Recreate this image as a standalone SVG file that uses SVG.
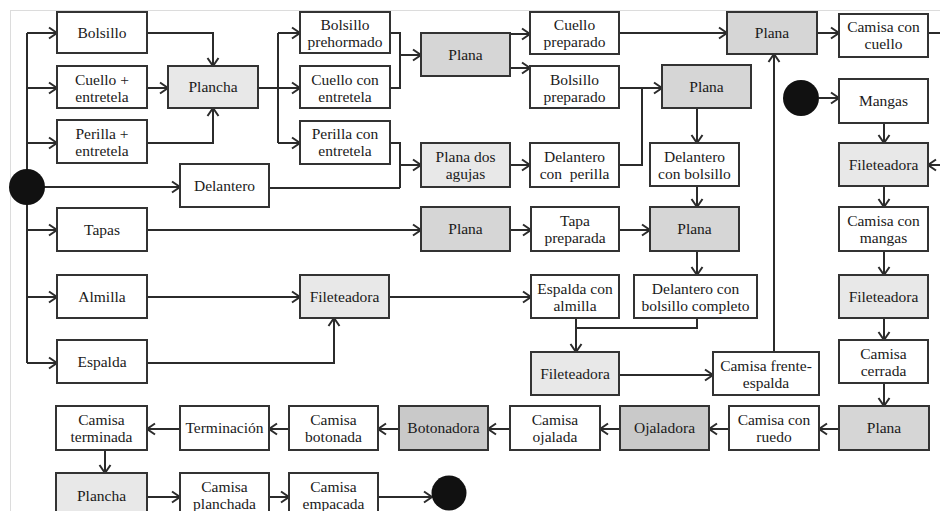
<svg xmlns="http://www.w3.org/2000/svg" width="940" height="511" viewBox="0 0 940 511">
<defs>
<marker id="ar" markerUnits="userSpaceOnUse" markerWidth="12" markerHeight="14" viewBox="0 0 12 14" refX="10" refY="7" orient="auto">
<path d="M2,1.5 L10,7 L2,12.5" fill="none" stroke="#2b2b2b" stroke-width="2"/>
</marker>
</defs>
<style>
.b{fill:#fff;stroke:#333;stroke-width:2}
.l{fill:#e8e8e8;stroke:#333;stroke-width:2}
.m{fill:#d6d6d6;stroke:#333;stroke-width:2}
.d{fill:#c9c9c9;stroke:#333;stroke-width:2}
text{font-family:"Liberation Serif","Times New Roman",serif;font-size:15.5px;fill:#1a1a1a;text-anchor:middle}
.c{fill:#111}
.w{fill:none;stroke:#2b2b2b;stroke-width:2}
.a{marker-end:url(#ar)}
.f{fill:none;stroke:#dcdcdc;stroke-width:1}
</style>
<rect width="940" height="511" fill="#fff"/>
<path class="f" d="M10,10.5 H940 M10.5,10 V511"/>
<g id="connectors">
<path class="w" d="M27,33 V363"/>
<path class="w a" d="M27,33 H57"/>
<path class="w a" d="M27,88 H57"/>
<path class="w a" d="M27,143 H57"/>
<path class="w a" d="M44,187 H180"/>
<path class="w a" d="M27,230 H57"/>
<path class="w a" d="M27,297 H57"/>
<path class="w a" d="M27,363 H57"/>
<path class="w a" d="M147,33 H213 V66"/>
<path class="w a" d="M147,88 H168"/>
<path class="w a" d="M147,143 H213 V108"/>
<path class="w" d="M258,88 H278 M278,33 V143"/>
<path class="w a" d="M278,33 H300"/>
<path class="w a" d="M278,88 H300"/>
<path class="w a" d="M278,143 H300"/>
<path class="w" d="M390,33 H400 V88 H390"/>
<path class="w a" d="M400,55 H421"/>
<path class="w a" d="M510,34 H530"/>
<path class="w a" d="M510,68 H530"/>
<path class="w" d="M390,143 H400 V188 M269,188 H400"/>
<path class="w a" d="M400,165 H421"/>
<path class="w a" d="M510,165 H530"/>
<path class="w a" d="M619,33 H727"/>
<path class="w a" d="M817,33 H839"/>
<path class="w" d="M928,33 H940"/>
<path class="w a" d="M619,88 H662"/>
<path class="w" d="M619,165 H642 V88"/>
<path class="w a" d="M697,108 V143"/>
<path class="w a" d="M697,187 V207"/>
<path class="w a" d="M147,230 H421"/>
<path class="w a" d="M510,230 H531"/>
<path class="w a" d="M619,230 H650"/>
<path class="w a" d="M697,251 V275"/>
<path class="w" d="M697,318 V328 H576"/>
<path class="w a" d="M576,318 V352"/>
<path class="w a" d="M147,297 H300"/>
<path class="w a" d="M147,363 H334 V318"/>
<path class="w a" d="M389,297 H531"/>
<path class="w a" d="M619,375 H713"/>
<path class="w a" d="M774,352 V54"/>
<path class="w a" d="M819,98 H839"/>
<path class="w a" d="M884,123 V143"/>
<path class="w a" d="M940,165 H928"/>
<path class="w a" d="M884,186 V207"/>
<path class="w a" d="M884,251 V275"/>
<path class="w a" d="M884,318 V340"/>
<path class="w a" d="M884,383 V406"/>
<path class="w a" d="M839,429 H819"/>
<path class="w a" d="M729,429 H709"/>
<path class="w a" d="M620,429 H600"/>
<path class="w a" d="M510,429 H488"/>
<path class="w a" d="M399,429 H378"/>
<path class="w a" d="M289,429 H269"/>
<path class="w a" d="M180,429 H147"/>
<path class="w a" d="M105,450 V473"/>
<path class="w a" d="M147,497 H180"/>
<path class="w a" d="M269,497 H289"/>
<path class="w a" d="M378,497 H432"/>
</g>
<g id="start1"><circle class="c" cx="27" cy="187" r="18"/></g>
<g id="start2"><circle class="c" cx="801" cy="98" r="18"/></g>
<g id="end"><circle class="c" cx="449" cy="493" r="17.5"/></g>
<g id="bolsillo"><rect class="b" x="57" y="12" width="90" height="41"/><text x="102" y="38">Bolsillo</text></g>
<g id="cuello-entretela"><rect class="b" x="57" y="66" width="90" height="42"/><text x="102" y="85">Cuello +</text><text x="102" y="102">entretela</text></g>
<g id="perilla-entretela"><rect class="b" x="57" y="120" width="90" height="43"/><text x="102" y="139">Perilla +</text><text x="102" y="156">entretela</text></g>
<g id="plancha1"><rect class="l" x="168" y="66" width="90" height="42"/><text x="213" y="92">Plancha</text></g>
<g id="delantero"><rect class="b" x="180" y="164" width="89" height="43"/><text x="224.5" y="191">Delantero</text></g>
<g id="tapas"><rect class="b" x="57" y="208" width="90" height="43"/><text x="102" y="235">Tapas</text></g>
<g id="almilla"><rect class="b" x="57" y="275" width="90" height="43"/><text x="102" y="302">Almilla</text></g>
<g id="espalda"><rect class="b" x="57" y="340" width="90" height="43"/><text x="102" y="367">Espalda</text></g>
<g id="bolsillo-prehormado"><rect class="b" x="300" y="12" width="90" height="41"/><text x="345" y="30">Bolsillo</text><text x="345" y="47">prehormado</text></g>
<g id="cuello-con-entretela"><rect class="b" x="300" y="66" width="90" height="42"/><text x="345" y="85">Cuello con</text><text x="345" y="102">entretela</text></g>
<g id="perilla-con-entretela"><rect class="b" x="300" y="121" width="90" height="43"/><text x="345" y="139">Perilla con</text><text x="345" y="156">entretela</text></g>
<g id="plana1"><rect class="m" x="421" y="33" width="89" height="43"/><text x="465.5" y="60">Plana</text></g>
<g id="plana-dos-agujas"><rect class="l" x="421" y="143" width="89" height="44"/><text x="465.5" y="162">Plana dos</text><text x="465.5" y="179">agujas</text></g>
<g id="cuello-preparado"><rect class="b" x="530" y="12" width="89" height="42"/><text x="574.5" y="30">Cuello</text><text x="574.5" y="47">preparado</text></g>
<g id="bolsillo-preparado"><rect class="b" x="530" y="66" width="89" height="42"/><text x="574.5" y="85">Bolsillo</text><text x="574.5" y="102">preparado</text></g>
<g id="delantero-con-perilla"><rect class="b" x="530" y="143" width="89" height="44"/><text x="574.5" y="162">Delantero</text><text x="574.5" y="179" xml:space="preserve">con  perilla</text></g>
<g id="plana-top"><rect class="m" x="727" y="12" width="90" height="42"/><text x="772" y="38">Plana</text></g>
<g id="camisa-con-cuello"><rect class="b" x="839" y="14" width="89" height="43"/><text x="883.5" y="32">Camisa con</text><text x="883.5" y="49">cuello</text></g>
<g id="plana2"><rect class="m" x="662" y="65" width="89" height="43"/><text x="706.5" y="92">Plana</text></g>
<g id="delantero-con-bolsillo"><rect class="b" x="650" y="143" width="89" height="43"/><text x="694.5" y="162">Delantero</text><text x="694.5" y="179">con bolsillo</text></g>
<g id="plana-tapas"><rect class="m" x="421" y="207" width="89" height="44"/><text x="465.5" y="234">Plana</text></g>
<g id="tapa-preparada"><rect class="b" x="531" y="207" width="88" height="44"/><text x="575" y="226">Tapa</text><text x="575" y="243">preparada</text></g>
<g id="plana3"><rect class="m" x="650" y="207" width="89" height="44"/><text x="694.5" y="234">Plana</text></g>
<g id="fileteadora-mid"><rect class="l" x="300" y="275" width="89" height="43"/><text x="344.5" y="302">Fileteadora</text></g>
<g id="espalda-con-almilla"><rect class="b" x="531" y="275" width="88" height="43"/><text x="575" y="294">Espalda con</text><text x="575" y="311">almilla</text></g>
<g id="delantero-bolsillo-completo"><rect class="b" x="634" y="275" width="123" height="43"/><text x="695.5" y="294">Delantero con</text><text x="695.5" y="311">bolsillo completo</text></g>
<g id="fileteadora-bot"><rect class="l" x="531" y="352" width="88" height="43"/><text x="575" y="379">Fileteadora</text></g>
<g id="camisa-frente-espalda"><rect class="b" x="713" y="352" width="106" height="43"/><text x="766" y="371">Camisa frente-</text><text x="766" y="388">espalda</text></g>
<g id="mangas"><rect class="b" x="839" y="79" width="89" height="44"/><text x="883.5" y="106">Mangas</text></g>
<g id="fileteadora-r1"><rect class="l" x="839" y="143" width="89" height="43"/><text x="883.5" y="170">Fileteadora</text></g>
<g id="camisa-con-mangas"><rect class="b" x="839" y="207" width="89" height="44"/><text x="883.5" y="226">Camisa con</text><text x="883.5" y="243">mangas</text></g>
<g id="fileteadora-r2"><rect class="l" x="839" y="275" width="89" height="43"/><text x="883.5" y="302">Fileteadora</text></g>
<g id="camisa-cerrada"><rect class="b" x="839" y="340" width="89" height="43"/><text x="883.5" y="359">Camisa</text><text x="883.5" y="376">cerrada</text></g>
<g id="plana-r"><rect class="m" x="839" y="406" width="90" height="44"/><text x="884" y="433">Plana</text></g>
<g id="camisa-con-ruedo"><rect class="b" x="729" y="406" width="90" height="44"/><text x="774" y="425">Camisa con</text><text x="774" y="442">ruedo</text></g>
<g id="ojaladora"><rect class="d" x="620" y="406" width="89" height="44"/><text x="664.5" y="433">Ojaladora</text></g>
<g id="camisa-ojalada"><rect class="b" x="510" y="406" width="90" height="44"/><text x="555" y="425">Camisa</text><text x="555" y="442">ojalada</text></g>
<g id="botonadora"><rect class="d" x="399" y="406" width="89" height="44"/><text x="443.5" y="433">Botonadora</text></g>
<g id="camisa-botonada"><rect class="b" x="289" y="406" width="89" height="44"/><text x="333.5" y="425">Camisa</text><text x="333.5" y="442">botonada</text></g>
<g id="terminacion"><rect class="b" x="180" y="406" width="89" height="44"/><text x="224.5" y="433">Terminación</text></g>
<g id="camisa-terminada"><rect class="b" x="56" y="406" width="91" height="44"/><text x="101.5" y="425">Camisa</text><text x="101.5" y="442">terminada</text></g>
<g id="plancha-bot"><rect class="l" x="56" y="473" width="91" height="45"/><text x="101.5" y="501">Plancha</text></g>
<g id="camisa-planchada"><rect class="b" x="180" y="473" width="89" height="45"/><text x="224.5" y="492">Camisa</text><text x="224.5" y="509">planchada</text></g>
<g id="camisa-empacada"><rect class="b" x="289" y="473" width="89" height="45"/><text x="333.5" y="492">Camisa</text><text x="333.5" y="509">empacada</text></g>
</svg>
